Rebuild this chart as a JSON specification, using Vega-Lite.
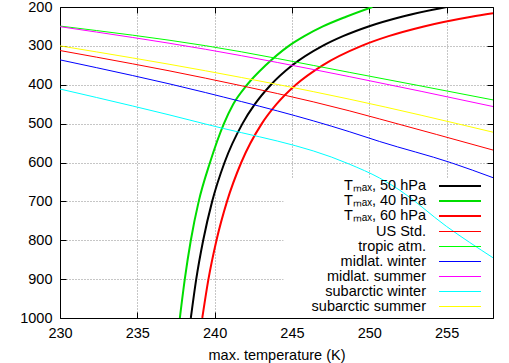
{
  "$schema": "https://vega.github.io/schema/vega-lite/v6.json",
  "width": 433,
  "height": 311,
  "autosize": {"type": "none"},
  "padding": {"left": 60, "top": 7, "right": 16, "bottom": 45},
  "background": "white",
  "config": {
    "view": {"stroke": null},
    "font": "Liberation Sans",
    "axis": {
      "domainColor": "black",
      "domainWidth": 1,
      "tickColor": "black",
      "tickWidth": 1,
      "tickSize": -6,
      "labelPadding": 14,
      "labelFont": "Liberation Sans",
      "labelFontSize": 14.5,
      "labelColor": "black",
      "labelFlush": false,
      "labelOverlap": false,
      "labelBound": false,
      "gridColor": "#8c8c8c",
      "gridDash": [1, 2],
      "gridWidth": 1,
      "titleFont": "Liberation Sans",
      "titleFontSize": 14.5,
      "titleFontWeight": "normal",
      "titleColor": "black",
      "zindex": 1
    },
    "legend": {
      "labelFont": "Liberation Sans",
      "labelFontSize": 14.5,
      "labelColor": "black"
    }
  },
  "data": {
    "values": [
      {"series": "Tₘₐₓ, 50 hPa", "T": 238.46, "p": 1000},
      {"series": "Tₘₐₓ, 50 hPa", "T": 238.81, "p": 900},
      {"series": "Tₘₐₓ, 50 hPa", "T": 239.26, "p": 800},
      {"series": "Tₘₐₓ, 50 hPa", "T": 239.84, "p": 700},
      {"series": "Tₘₐₓ, 50 hPa", "T": 240.64, "p": 600},
      {"series": "Tₘₐₓ, 50 hPa", "T": 241.8, "p": 500},
      {"series": "Tₘₐₓ, 50 hPa", "T": 242.6, "p": 450},
      {"series": "Tₘₐₓ, 50 hPa", "T": 243.64, "p": 400},
      {"series": "Tₘₐₓ, 50 hPa", "T": 245.02, "p": 350},
      {"series": "Tₘₐₓ, 50 hPa", "T": 246.98, "p": 300},
      {"series": "Tₘₐₓ, 50 hPa", "T": 248.3, "p": 275},
      {"series": "Tₘₐₓ, 50 hPa", "T": 249.95, "p": 250},
      {"series": "Tₘₐₓ, 50 hPa", "T": 252.1, "p": 225},
      {"series": "Tₘₐₓ, 50 hPa", "T": 255.0, "p": 200},

      {"series": "Tₘₐₓ, 40 hPa", "T": 237.75, "p": 1000},
      {"series": "Tₘₐₓ, 40 hPa", "T": 238.07, "p": 900},
      {"series": "Tₘₐₓ, 40 hPa", "T": 238.46, "p": 800},
      {"series": "Tₘₐₓ, 40 hPa", "T": 238.97, "p": 700},
      {"series": "Tₘₐₓ, 40 hPa", "T": 239.7, "p": 600},
      {"series": "Tₘₐₓ, 40 hPa", "T": 240.6, "p": 500},
      {"series": "Tₘₐₓ, 40 hPa", "T": 241.2, "p": 450},
      {"series": "Tₘₐₓ, 40 hPa", "T": 242.1, "p": 400},
      {"series": "Tₘₐₓ, 40 hPa", "T": 243.3, "p": 350},
      {"series": "Tₘₐₓ, 40 hPa", "T": 244.8, "p": 300},
      {"series": "Tₘₐₓ, 40 hPa", "T": 245.8, "p": 275},
      {"series": "Tₘₐₓ, 40 hPa", "T": 247.0, "p": 250},
      {"series": "Tₘₐₓ, 40 hPa", "T": 248.5, "p": 225},
      {"series": "Tₘₐₓ, 40 hPa", "T": 250.2, "p": 200},

      {"series": "Tₘₐₓ, 60 hPa", "T": 239.2, "p": 1000},
      {"series": "Tₘₐₓ, 60 hPa", "T": 239.6, "p": 900},
      {"series": "Tₘₐₓ, 60 hPa", "T": 240.12, "p": 800},
      {"series": "Tₘₐₓ, 60 hPa", "T": 240.8, "p": 700},
      {"series": "Tₘₐₓ, 60 hPa", "T": 241.72, "p": 600},
      {"series": "Tₘₐₓ, 60 hPa", "T": 243.05, "p": 500},
      {"series": "Tₘₐₓ, 60 hPa", "T": 244.0, "p": 450},
      {"series": "Tₘₐₓ, 60 hPa", "T": 245.25, "p": 400},
      {"series": "Tₘₐₓ, 60 hPa", "T": 246.98, "p": 350},
      {"series": "Tₘₐₓ, 60 hPa", "T": 249.5, "p": 300},
      {"series": "Tₘₐₓ, 60 hPa", "T": 251.25, "p": 275},
      {"series": "Tₘₐₓ, 60 hPa", "T": 253.53, "p": 250},
      {"series": "Tₘₐₓ, 60 hPa", "T": 256.6, "p": 225},
      {"series": "Tₘₐₓ, 60 hPa", "T": 258.0, "p": 216},

      {"series": "US Std.", "T": 230.0, "p": 312},
      {"series": "US Std.", "T": 239.4, "p": 383},
      {"series": "US Std.", "T": 248.7, "p": 467},
      {"series": "US Std.", "T": 250.67, "p": 488},
      {"series": "US Std.", "T": 258.0, "p": 568},

      {"series": "tropic atm.", "T": 230.0, "p": 249},
      {"series": "tropic atm.", "T": 239.4, "p": 299.5},
      {"series": "tropic atm.", "T": 248.7, "p": 368},
      {"series": "tropic atm.", "T": 258.0, "p": 439},

      {"series": "midlat. winter", "T": 230.0, "p": 336},
      {"series": "midlat. winter", "T": 239.4, "p": 420},
      {"series": "midlat. winter", "T": 248.7, "p": 520.6},
      {"series": "midlat. winter", "T": 250.67, "p": 546},
      {"series": "midlat. winter", "T": 255.32, "p": 601},
      {"series": "midlat. winter", "T": 258.0, "p": 639},

      {"series": "midlat. summer", "T": 230.0, "p": 250.6},
      {"series": "midlat. summer", "T": 239.4, "p": 308.7},
      {"series": "midlat. summer", "T": 248.7, "p": 379},
      {"series": "midlat. summer", "T": 258.0, "p": 456},

      {"series": "subarctic winter", "T": 230.0, "p": 411},
      {"series": "subarctic winter", "T": 239.4, "p": 501},
      {"series": "subarctic winter", "T": 248.7, "p": 604},
      {"series": "subarctic winter", "T": 250.67, "p": 640},
      {"series": "subarctic winter", "T": 251.96, "p": 671},
      {"series": "subarctic winter", "T": 254.98, "p": 764},
      {"series": "subarctic winter", "T": 258.0, "p": 845},

      {"series": "subarctic summer", "T": 230.0, "p": 300},
      {"series": "subarctic summer", "T": 239.4, "p": 364},
      {"series": "subarctic summer", "T": 248.7, "p": 437},
      {"series": "subarctic summer", "T": 258.0, "p": 522}
    ]
  },
  "layer": [
    {
      "description": "opaque key box over the grid, with the mirrored top/right axes",
      "data": {"values": [{}]},
      "mark": {"type": "rect", "color": "white"},
      "encoding": {
        "x": {"datum": 244.45, "type": "quantitative",
              "axis": {"orient": "top", "values": [230, 235, 240, 245, 250, 255], "labels": false, "grid": false, "title": null}},
        "x2": {"datum": 258},
        "y": {"datum": 640, "type": "quantitative",
              "axis": {"orient": "right", "values": [200, 300, 400, 500, 600, 700, 800, 900, 1000], "labels": false, "grid": false, "title": null}},
        "y2": {"datum": 1000}
      }
    },
    {
      "mark": {"type": "line", "interpolate": "monotone", "clip": true},
      "encoding": {
        "x": {
          "field": "T", "type": "quantitative",
          "scale": {"domain": [230, 258], "nice": false, "zero": false},
          "axis": {"orient": "bottom", "values": [230, 235, 240, 245, 250, 255], "grid": true,
                   "title": "max. temperature (K)", "titleBaseline": "alphabetic", "titleY": 41.5}
        },
        "y": {
          "field": "p", "type": "quantitative",
          "scale": {"domain": [200, 1000], "nice": false, "zero": false, "reverse": true},
          "axis": {"orient": "left", "values": [200, 300, 400, 500, 600, 700, 800, 900, 1000], "format": "d", "grid": true, "title": null}
        },
        "color": {
          "field": "series", "type": "nominal",
          "scale": {
            "domain": ["Tₘₐₓ, 50 hPa", "Tₘₐₓ, 40 hPa", "Tₘₐₓ, 60 hPa", "US Std.", "tropic atm.", "midlat. winter", "midlat. summer", "subarctic winter", "subarctic summer"],
            "range": ["#000000", "#00dd00", "#ff0000", "#ff0000", "#00ff00", "#0000ff", "#ff00ff", "#00ffff", "#ffff00"]
          },
          "legend": {
            "orient": "none", "legendX": 358, "legendY": 171, "title": null, "padding": 0,
            "symbolType": "M-3,0H3", "symbolSize": 196, "symbolOffset": 34,
            "labelAlign": "right", "labelOffset": -42, "rowPadding": 0
          }
        },
        "strokeWidth": {
          "field": "series", "type": "nominal",
          "scale": {
            "type": "ordinal",
            "domain": ["Tₘₐₓ, 50 hPa", "Tₘₐₓ, 40 hPa", "Tₘₐₓ, 60 hPa", "US Std.", "tropic atm.", "midlat. winter", "midlat. summer", "subarctic winter", "subarctic summer"],
            "range": [2, 2, 2, 1, 1, 1, 1, 1, 1]
          }
        }
      }
    }
  ]
}
